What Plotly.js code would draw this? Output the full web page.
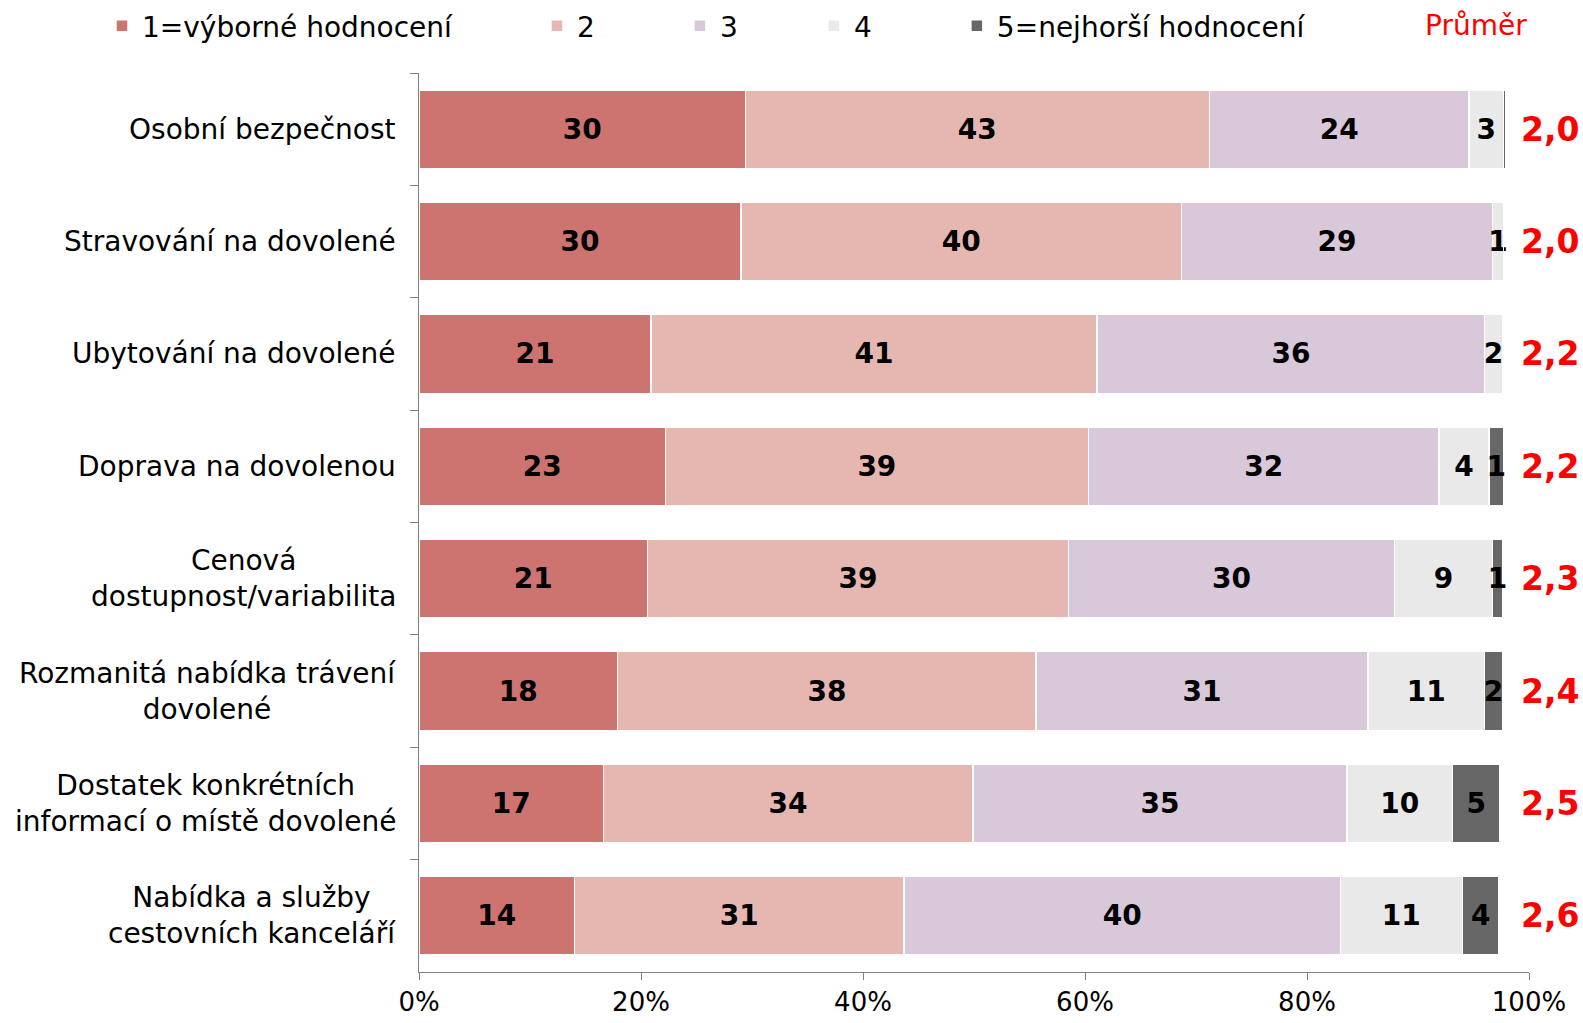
<!DOCTYPE html>
<html>
<head>
<meta charset="utf-8">
<script src="https://cdn.plot.ly/plotly-3.0.1.min.js"></script>
<style>html,body{margin:0;padding:0;background:#fff;}#chart{width:1583px;height:1023px;}</style>
</head>
<body>
<div id="chart"></div>
<script>
// Categories, top to bottom
var categories = [
  "Osobní bezpečnost",
  "Stravování na dovolené",
  "Ubytování na dovolené",
  "Doprava na dovolenou",
  "Cenová<br>dostupnost/variabilita",
  "Rozmanitá nabídka trávení<br>dovolené",
  "Dostatek konkrétních<br>informací o místě dovolené",
  "Nabídka a služby<br>cestovních kanceláří"
];

// Series names
var seriesNames = ["1=výborné hodnocení", "2", "3", "4", "5=nejhorší hodnocení"];

// Bar segment widths (% of respondents)
var s1 = [29.4, 29.0, 20.9, 22.2, 20.6, 17.9, 16.6, 14.0];
var s2 = [41.8, 39.7, 40.2, 38.1, 37.9, 37.7, 33.3, 29.7];
var s3 = [23.4, 28.0, 34.9, 31.6, 29.4, 29.9, 33.7, 39.3];
var s4 = [3.1, 1.0, 1.6, 4.5, 8.8, 10.5, 9.5, 11.0];
var s5 = [0.2, 0.0, 0.0, 1.3, 0.9, 1.6, 4.3, 3.3];

// Printed segment labels
var l1 = ["30", "30", "21", "23", "21", "18", "17", "14"];
var l2 = ["43", "40", "41", "39", "39", "38", "34", "31"];
var l3 = ["24", "29", "36", "32", "30", "31", "35", "40"];
var l4 = ["3", "1", "2", "4", "9", "11", "10", "11"];
var l5 = ["", "", "", "1", "1", "2", "5", "4"];

// Average rating (Průměr)
var averages = ["2,0", "2,0", "2,2", "2,2", "2,3", "2,4", "2,5", "2,6"];

// X-axis ticks
var xTickVals = [0, 20, 40, 60, 80, 100];
var xTickText = ["0%", "20%", "40%", "60%", "80%", "100%"];

var colors = ["#cd7471", "#e6b7b1", "#d9c7da", "#e9e9e9", "#676767"];
var values = [s1, s2, s3, s4, s5];
var labels = [l1, l2, l3, l4, l5];
var legendPad = [9, 9, 8, 9, 0];

var FONT = "DejaVu Sans, Verdana, sans-serif";

var data = values.map(function (v, i) {
  return {
    type: "bar",
    orientation: "h",
    name: seriesNames[i] + "\u00a0".repeat(legendPad[i]),
    x: v,
    y: categories,
    text: labels[i],
    textposition: "inside",
    insidetextanchor: "middle",
    constraintext: "none",
    textangle: 0,
    textfont: {family: FONT, size: 28, color: "#000", weight: "bold"},
    marker: {color: colors[i], line: {color: "#ffffff", width: 1.5}},
    cliponaxis: false,
    hoverinfo: "none"
  };
});

var annotations = [];
categories.forEach(function (c, i) {
  annotations.push({
    xref: "paper", yref: "y", x: 0, y: c,
    xanchor: "right", yanchor: "middle", xshift: -21,
    text: c, align: "center", showarrow: false,
    font: {family: FONT, size: 28, color: "#000"}
  });
  annotations.push({
    xref: "x", yref: "y", x: 99.1, y: c,
    xanchor: "left", yanchor: "middle",
    text: averages[i], showarrow: false,
    font: {family: FONT, size: 33, color: "#ff0000", weight: "bold"}
  });
});
annotations.push({
  xref: "paper", yref: "paper", x: 1, y: 1.0523,
  xanchor: "right", yanchor: "middle",
  text: "Průměr", showarrow: false,
  font: {family: FONT, size: 28, color: "#ff0000"}
});

var layout = {
  width: 1583,
  height: 1023,
  margin: {l: 419, r: 54, t: 73, b: 51, pad: 0, autoexpand: false},
  paper_bgcolor: "#ffffff",
  plot_bgcolor: "#ffffff",
  barmode: "stack",
  bargap: 0.3,
  showlegend: true,
  legend: {
    orientation: "h",
    xref: "paper", x: -0.2856, xanchor: "left",
    yref: "paper", y: 1.0523, yanchor: "middle",
    font: {family: FONT, size: 28, color: "#000"},
    traceorder: "normal",
    bgcolor: "rgba(0,0,0,0)"
  },
  xaxis: {
    range: [0, 100],
    tickvals: xTickVals,
    ticktext: xTickText,
    ticks: "outside",
    ticklen: 7,
    tickcolor: "#808080",
    showline: true,
    linecolor: "#808080",
    linewidth: 1,
    showgrid: false,
    zeroline: false,
    tickfont: {family: FONT, size: 26, color: "#000"},
    fixedrange: true
  },
  yaxis: {
    type: "category",
    autorange: "reversed",
    showticklabels: false,
    ticks: "outside",
    tickson: "boundaries",
    ticklen: 8,
    tickcolor: "#808080",
    showline: true,
    linecolor: "#808080",
    linewidth: 1,
    showgrid: false,
    zeroline: false,
    fixedrange: true
  },
  annotations: annotations
};

Plotly.newPlot("chart", data, layout, {displayModeBar: false, staticPlot: true});
</script>
</body>
</html>
